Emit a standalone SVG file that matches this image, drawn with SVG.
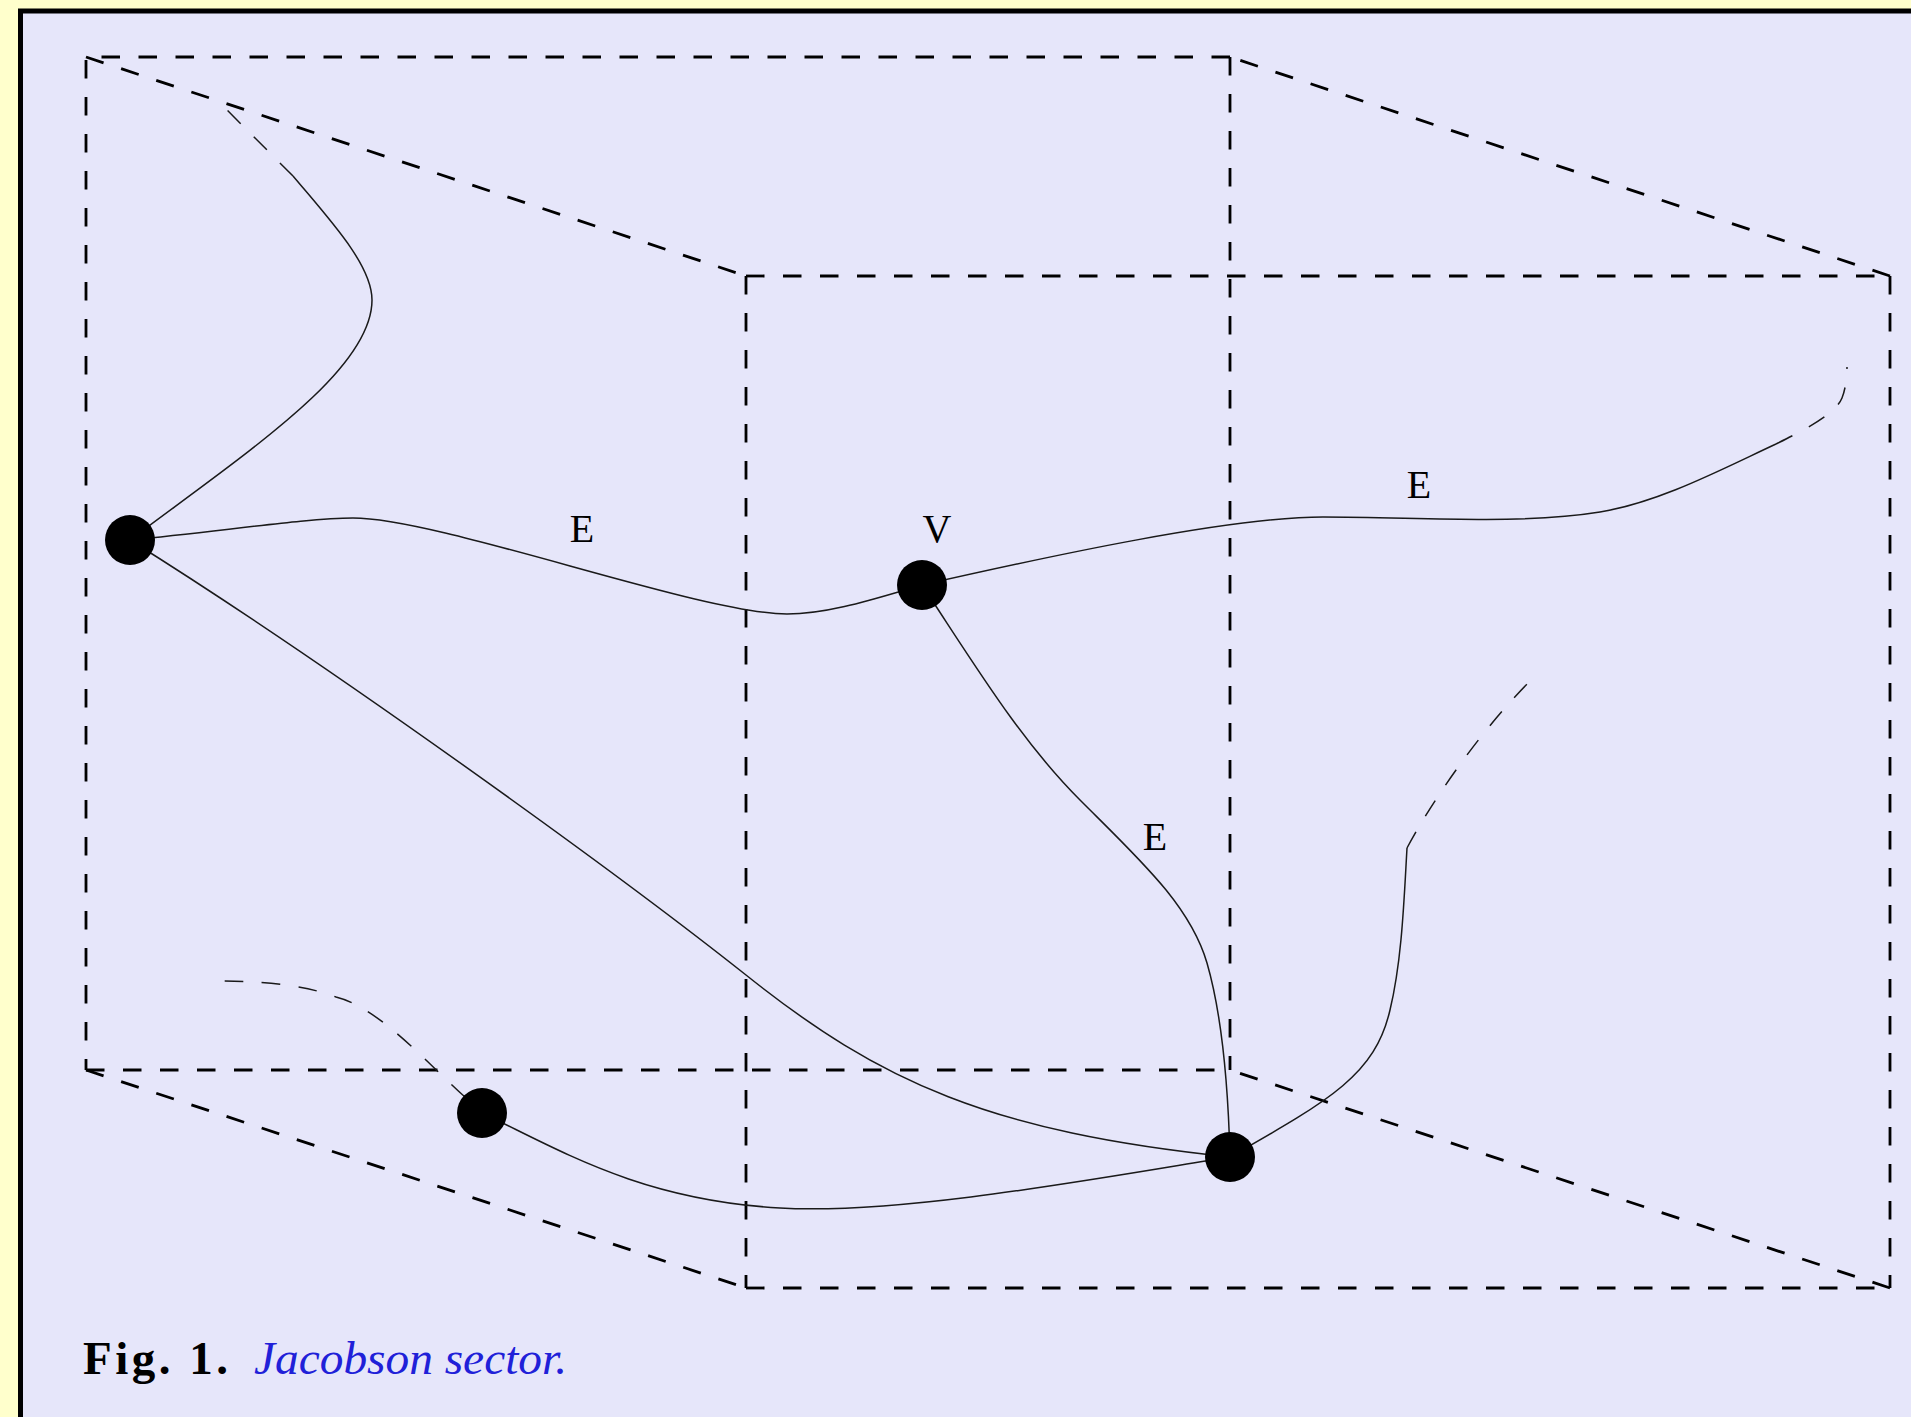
<svg xmlns="http://www.w3.org/2000/svg" width="1911" height="1417" viewBox="0 0 1911 1417">
<style>
.box{fill:none;stroke:#000;stroke-width:2.8;stroke-dasharray:18.5 18.5}
.edge{fill:none;stroke:#1a1a1a;stroke-width:1.5}
.edash{fill:none;stroke:#1a1a1a;stroke-width:1.5;stroke-dasharray:18.5 18.5}
.node{fill:#000}
.lbl{font-family:"Liberation Serif","Times New Roman",serif;font-size:40px;fill:#000;text-anchor:middle}
.cap{font-family:"Liberation Serif","Times New Roman",serif;font-size:47px}
</style>
<rect x="0" y="0" width="1911" height="1417" fill="#ffffcc"/>
<rect x="20.5" y="11" width="1950" height="1450" fill="#e6e6fa" stroke="#000" stroke-width="5"/>
<g id="box">
<path class="box" d="M1230 57 L86 57 L86 1070"/>
<path class="box" d="M86 57 L746 276"/>
<path class="box" d="M86 1070 L1230 1070"/>
<path class="box" d="M1230 57 L1230 1070"/>
<path class="box" d="M86 1070 L746 1288"/>
<path class="box" d="M746 276 L746 1288"/>
<path class="box" d="M746 276 L1890 276"/>
<path class="box" d="M1890 276 L1230 57"/>
<path class="box" d="M1890 276 L1890 1288"/>
<path class="box" d="M746 1288 L1890 1288"/>
<path class="box" d="M1890 1288 L1230 1070"/>
</g>
<g id="connectors">
<path class="edge" d="M130 540 C250 450 372 370 372 300 C372 265 330 220 293 176"/>
<path class="edash" d="M293 176 L218 101"/>
<path class="edge" d="M130 540 C230 530 310 518 353 518 C440 518 700 614 787 614 C830 614 880 597 922 585"/>
<path class="edge" d="M922 585 C1050 556 1230 517 1323 517 C1420 517 1520 525 1600 512 C1660 502 1720 470 1776 444"/>
<path class="edash" d="M1776 444 C1800 432 1835 415 1842 398 C1846 388 1847 375 1847 367"/>
<path class="edge" d="M922 585 C975 665 1020 740 1080 800 C1140 860 1190 905 1207 963 C1222 1015 1228 1080 1230 1157"/>
<path class="edge" d="M130 540 C330 665 620 875 746 975 C880 1082 990 1132 1230 1157"/>
<path class="edge" d="M482 1113 C560 1150 640 1200 780 1208 C900 1215 1100 1178 1230 1157"/>
<path class="edash" d="M465 1097 C430 1066 380 1008 336 997 C300 983 250 981 218 981"/>
<path class="edge" d="M1230 1157 C1330 1100 1375 1075 1390 1010 C1402 960 1404 900 1407 848"/>
<path class="edash" d="M1407 848 C1428 808 1475 737 1528 683"/>
</g>
<g id="node-a"><circle class="node" cx="130" cy="540" r="25"/></g>
<g id="node-v"><circle class="node" cx="922" cy="585" r="25"/></g>
<g id="node-c"><circle class="node" cx="482" cy="1113" r="25"/></g>
<g id="node-d"><circle class="node" cx="1230" cy="1157" r="25"/></g>
<g id="labels">
<text class="lbl" x="582" y="542">E</text>
<text class="lbl" x="937" y="542">V</text>
<text class="lbl" x="1419" y="498">E</text>
<text class="lbl" x="1155" y="850">E</text>
</g>
<g id="caption">
<text class="cap" x="83" y="1374" font-weight="bold" textLength="145" lengthAdjust="spacing">Fig. 1.</text>
<text class="cap" x="254" y="1374" font-style="italic" fill="#2020d8" textLength="313" lengthAdjust="spacingAndGlyphs">Jacobson sector.</text>
</g>
</svg>
